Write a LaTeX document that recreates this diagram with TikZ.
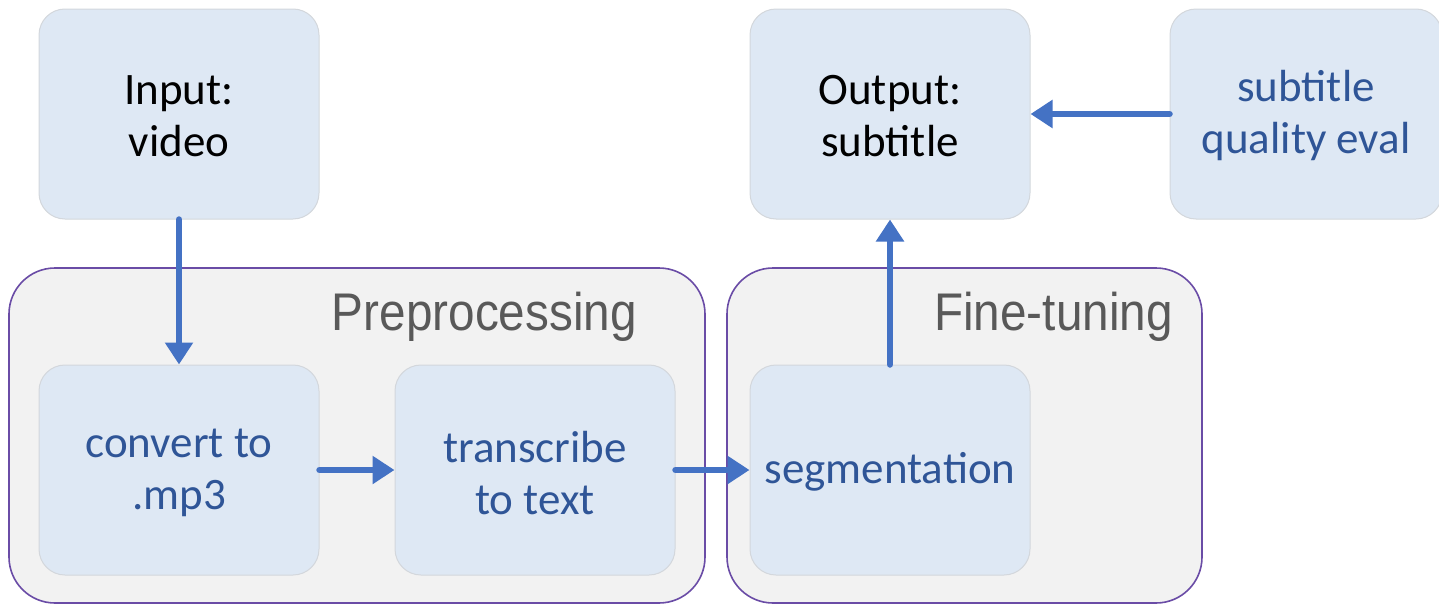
\documentclass[tikz,border=0pt]{standalone}
\usepackage{fontspec}
\setmainfont{Carlito}
\newfontfamily\grpfont[FakeStretch=0.9]{Liberation Sans}
\usetikzlibrary{arrows.meta}
\definecolor{boxfill}{HTML}{DEE8F4}
\definecolor{boxline}{HTML}{D3D7DC}
\definecolor{grpfill}{HTML}{F2F2F2}
\definecolor{grpline}{HTML}{6A4CA6}
\definecolor{arrowc}{HTML}{4472C4}
\definecolor{txtblue}{HTML}{2F5597}
\definecolor{txtgray}{HTML}{595959}
\begin{document}
\begin{tikzpicture}[x=1pt,y=-1pt,
  stagebox/.style={draw=boxline,line width=1pt,fill=boxfill,rounded corners=26pt,
    minimum width=280pt,minimum height=210pt,inner sep=0pt},
  stagetext/.style={inner sep=0pt,align=center,font=\fontsize{45}{52}\selectfont},
  bluetext/.style={text=txtblue},
  grpbox/.style={draw=grpline,line width=1.6pt,fill=grpfill,rounded corners=46pt,inner sep=0pt},
  grplabel/.style={text=txtgray,font=\grpfont\fontsize{53}{60}\selectfont,inner sep=0pt},
  flow/.style={draw=arrowc,line width=6.5pt,line cap=round,-{Triangle[length=22pt,width=27pt]}}
]
\useasboundingbox (0,0) rectangle (1439,605);
% groups
\node[grpbox,minimum width=696pt,minimum height=335pt] (pre) at (357,435.5) {};
\node[grpbox,minimum width=475pt,minimum height=335pt] (fine) at (964.5,435.5) {};
\node[grplabel,anchor=base east] (prelabel) at (637,330) {Preprocessing};
\node[grplabel,anchor=base east] (finelabel) at (1173,330) {Fine-tuning};
% boxes
\node[stagebox] (input) at (179,114) {};
\node[stagebox] (output) at (890,114) {};
\node[stagebox,minimum width=272pt] (quality) at (1306,114) {};
\node[stagebox] (convert) at (179,470) {};
\node[stagebox] (transcribe) at (535,470) {};
\node[stagebox] (segment) at (890,470) {};
% texts
\node[stagetext] (inputtext) at (179,116) {Input:\\video};
\node[stagetext] (outputtext) at (890,116) {Output:\\subtitle};
\node[stagetext,bluetext] (qualitytext) at (1306,116) {subtitle\\quality eval};
\node[stagetext,bluetext] (converttext) at (179,473) {convert to\\.mp3};
\node[stagetext,bluetext] (transcribetext) at (535,473) {transcribe\\to text};
\node[stagetext,bluetext] (segmenttext) at (890,472) {segmentation};
% arrows
\draw[flow] (input.south) -- (convert.north);
\draw[flow] (convert.east) -- (transcribe.west);
\draw[flow] (transcribe.east) -- (segment.west);
\draw[flow] (segment.north) -- (output.south);
\draw[flow] (quality.west) -- (output.east);
\end{tikzpicture}
\end{document}
